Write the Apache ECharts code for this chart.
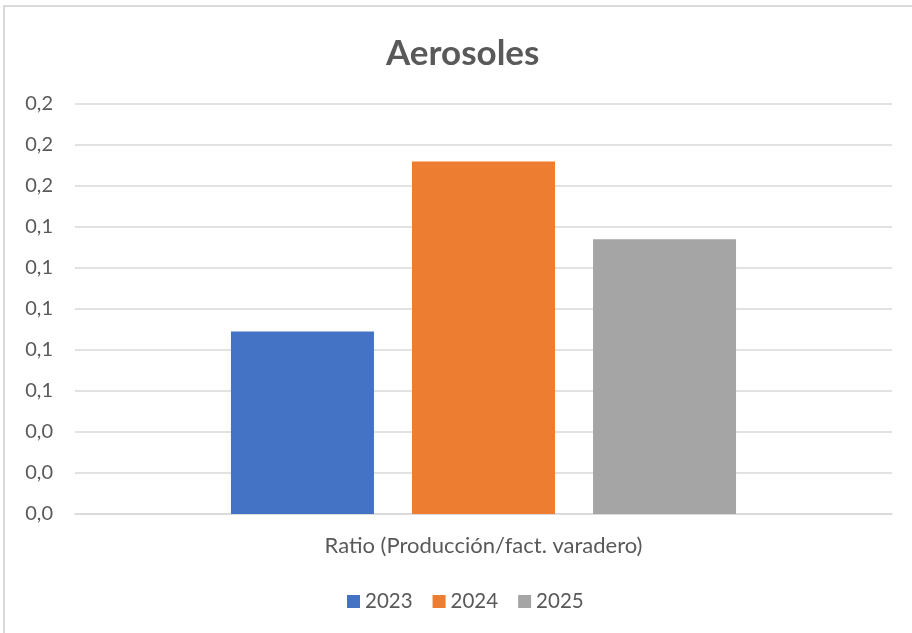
<!DOCTYPE html>
<html>
<head>
<meta charset="utf-8">
<script src="https://cdn.jsdelivr.net/npm/echarts@6/dist/echarts.min.js"></script>
<style>
html,body{margin:0;padding:0;background:#fff;}
#chart{width:912px;height:633px;}
</style>
</head>
<body>
<div id="chart"></div>
<script>
const titleText = 'Aerosoles';
const categories = ['Ratio (Producción/fact. varadero)'];
const seriesNames = ['2023', '2024', '2025'];
const values2023 = [0.089];
const values2024 = [0.172];
const values2025 = [0.134];
const seriesColors = ['#4472C4', '#ED7D31', '#A5A5A5'];

const seriesValues = [values2023, values2024, values2025];
const FONT = 'Lato, "Open Sans", sans-serif';
const TXT = '#595959';

const chart = echarts.init(document.getElementById('chart'), null, {renderer: 'canvas'});
chart.setOption({
  animation: false,
  backgroundColor: '#ffffff',
  textStyle: {fontFamily: FONT},
  title: {
    text: titleText,
    left: 381,
    top: 31,
    textStyle: {fontFamily: FONT, fontSize: 35, fontWeight: 'bold', color: TXT}
  },
  graphic: [{
    type: 'rect',
    silent: true,
    shape: {x: 4, y: 6, width: 1200, height: 1200},
    style: {fill: 'none', stroke: '#d9d9d9', lineWidth: 2}
  }],
  legend: {
    data: seriesNames,
    left: 342,
    top: 586,
    icon: 'rect',
    itemWidth: 13,
    itemHeight: 13,
    itemGap: 20,
    textStyle: {fontFamily: FONT, fontSize: 20.5, color: TXT, padding: [0, 0, 0, 0]}
  },
  grid: {left: 75, right: 20, top: 104, bottom: 119, containLabel: false},
  xAxis: {
    type: 'category',
    data: categories,
    axisLine: {show: true, lineStyle: {color: '#d9d9d9', width: 1.5}},
    axisTick: {show: false},
    axisLabel: {fontFamily: FONT, fontSize: 22, color: TXT, margin: 21}
  },
  yAxis: {
    type: 'value',
    min: 0,
    max: 0.2,
    interval: 0.02,
    axisLine: {show: false},
    axisTick: {show: false},
    splitLine: {lineStyle: {color: '#d9d9d9', width: 1.5}},
    axisLabel: {
      fontFamily: FONT, fontSize: 20, color: TXT, margin: 22,
      formatter: v => v.toFixed(1).replace('.', ',')
    }
  },
  series: seriesNames.map((name, i) => ({
    name: name,
    type: 'bar',
    data: seriesValues[i],
    barWidth: 143,
    barGap: '26.6%',
    itemStyle: {color: seriesColors[i]}
  }))
});
</script>
</body>
</html>
